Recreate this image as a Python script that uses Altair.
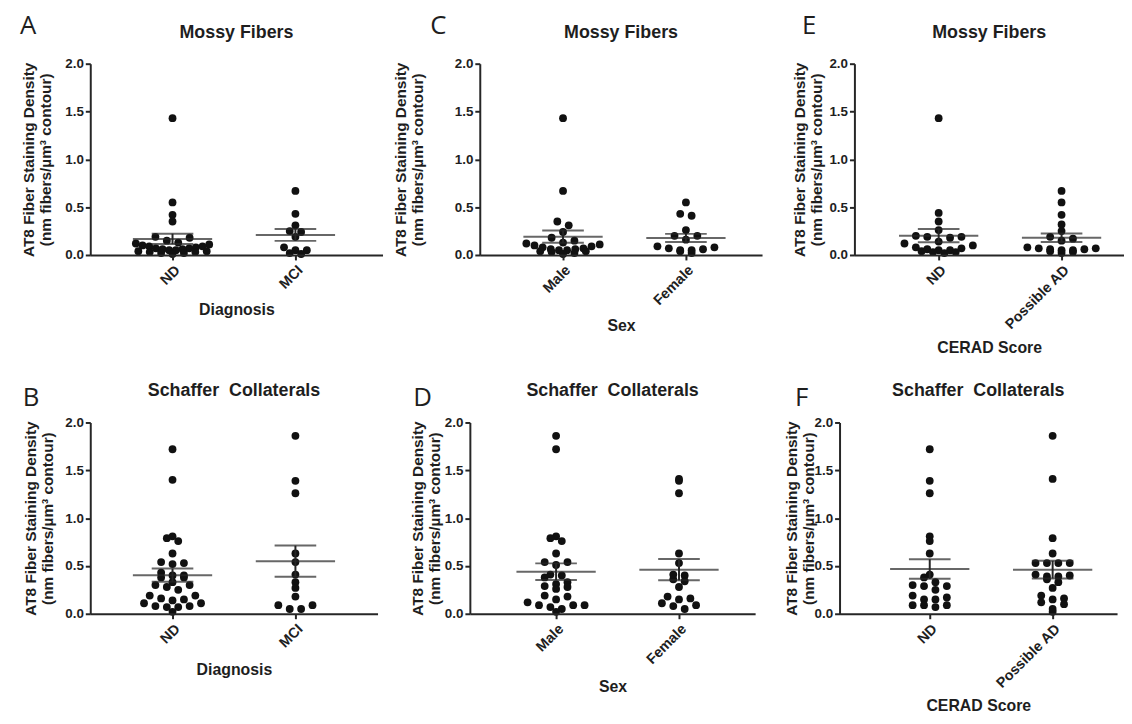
import altair as alt
import pandas as pd

# ---------------- data ----------------
# Mossy fibers, by diagnosis (panel A)
mf_diag_nd = [1.43, 0.55, 0.42, 0.35, 0.19, 0.18, 0.15, 0.13, 0.12, 0.11, 0.10, 0.09, 0.09, 0.08,
              0.07, 0.07, 0.06, 0.06, 0.05, 0.05, 0.04, 0.04, 0.03, 0.03, 0.02, 0.02, 0.01]
mf_diag_mci = [0.67, 0.43, 0.31, 0.25, 0.24, 0.19, 0.08, 0.05, 0.05, 0.02, 0.01]
# Mossy fibers, by sex (panel C)
mf_sex_male = [1.43, 0.67, 0.35, 0.31, 0.24, 0.18, 0.15, 0.13, 0.12, 0.11, 0.10, 0.09, 0.08, 0.07,
               0.06, 0.06, 0.05, 0.05, 0.04, 0.04, 0.03, 0.02, 0.01]
mf_sex_female = [0.55, 0.43, 0.41, 0.26, 0.20, 0.20, 0.16, 0.09, 0.08, 0.07, 0.06, 0.05, 0.05, 0.04, 0.02]
# Mossy fibers, by CERAD score (panel E)
mf_cerad_nd = [1.43, 0.44, 0.35, 0.26, 0.20, 0.19, 0.19, 0.18, 0.14, 0.12, 0.10, 0.08, 0.07, 0.06,
               0.05, 0.05, 0.04, 0.03, 0.03, 0.02]
mf_cerad_pad = [0.67, 0.55, 0.42, 0.32, 0.25, 0.19, 0.17, 0.15, 0.08, 0.07, 0.07, 0.06, 0.06, 0.05,
                0.05, 0.04, 0.03, 0.02]
# Schaffer collaterals, by diagnosis (panel B)
sc_diag_nd = [1.72, 1.40, 0.81, 0.79, 0.76, 0.63, 0.54, 0.53, 0.52, 0.43, 0.40, 0.40, 0.38, 0.38,
              0.33, 0.30, 0.30, 0.28, 0.25, 0.19, 0.19, 0.16, 0.15, 0.14, 0.11, 0.11, 0.08, 0.08,
              0.07, 0.07, 0.02]
sc_diag_mci = [1.86, 1.39, 1.26, 0.63, 0.54, 0.41, 0.33, 0.27, 0.18, 0.09, 0.09, 0.05, 0.05]
# Schaffer collaterals, by sex (panel D)
sc_sex_male = [1.86, 1.72, 0.81, 0.79, 0.76, 0.63, 0.54, 0.54, 0.51, 0.41, 0.40, 0.38, 0.33, 0.31,
               0.29, 0.28, 0.26, 0.19, 0.18, 0.15, 0.12, 0.09, 0.09, 0.09, 0.07, 0.05, 0.02]
sc_sex_female = [1.41, 1.39, 1.26, 0.63, 0.53, 0.41, 0.40, 0.36, 0.34, 0.28, 0.18, 0.16, 0.15,
                 0.11, 0.09, 0.08, 0.05]
# Schaffer collaterals, by CERAD score (panel F)
sc_cerad_nd = [1.72, 1.39, 1.26, 0.81, 0.76, 0.63, 0.41, 0.38, 0.33, 0.30, 0.29, 0.29, 0.25, 0.19,
               0.17, 0.15, 0.15, 0.09, 0.09, 0.09, 0.07]
sc_cerad_pad = [1.86, 1.41, 0.79, 0.63, 0.53, 0.53, 0.53, 0.53, 0.41, 0.40, 0.39, 0.39, 0.36, 0.33,
                0.27, 0.19, 0.16, 0.15, 0.12, 0.10, 0.05, 0.02]

diag_cats = ["ND", "MCI"]
sex_cats = ["Male", "Female"]
cerad_cats = ["ND", "Possible AD"]
y_ticks = [0.0, 0.5, 1.0, 1.5, 2.0]

# ---------------- styling / layout constants ----------------
PLOT_H = 193
Y_MAX = 2.0
CAT_STEP = 124          # px between the two category columns
ROW_BIN = 0.085         # value band grouped into one swarm row
ROW_PHASE = 0.04
DOT_STEP = 11.5         # px between neighbouring dots in a row
MAX_HALF = 37.0         # widest half-spread of a row (px)
INK = "#111111"
AXIS_C = "#262626"
TXT = "#1e1e1e"
FONT = "Liberation Sans"
Y_TITLE = ["AT8 Fiber Staining Density", "(nm fibers/\u00b5m\u00b3 contour)"]
TOP_SPACE = 52          # px above plot included in each panel's bounds
BOTTOM_SPACE = 104      # px below plot included in each panel's bounds

AXIS_STYLE = dict(grid=False, domain=True, domainColor=AXIS_C, domainWidth=2, tickColor=AXIS_C,
                  tickWidth=2, tickSize=5, labelFont=FONT, labelFontWeight="bold", labelColor=TXT,
                  titleFont=FONT, titleFontWeight="bold", titleColor=TXT, zindex=1)


def swarm(vals):
    """Scatter-dot layout: values are grouped into rows and spread symmetrically (px offsets)."""
    rows = {}
    for i, v in enumerate(vals):
        rows.setdefault(int((v + ROW_PHASE) // ROW_BIN), []).append(i)
    xs = [0.0] * len(vals)
    for idx in rows.values():
        idx = sorted(idx, key=lambda i: vals[i])
        n = len(idx)
        step = DOT_STEP
        if n > 1 and (n - 1) * step / 2 > MAX_HALF:
            step = 2 * MAX_HALF / (n - 1)
        offs = [(k - (n - 1) / 2) * step for k in range(n)]
        offs.sort(key=lambda o: (abs(o), -o))
        for i, o in zip(idx, offs):
            xs[i] = o
    return xs


def panel(letter, title, xtitle, cats, groups, width, x0, left_bound, ytitle_x, letter_xy,
          title_y, xtitle_y):
    rows = []
    stats = []
    for g, vals in enumerate(groups):
        offs = swarm(vals)
        for v, o in zip(vals, offs):
            rows.append({"xpos": g + o / CAT_STEP, "v": v})
        n = len(vals)
        m = sum(vals) / n
        sd = (sum((v - m) ** 2 for v in vals) / (n - 1)) ** 0.5
        se = sd / n ** 0.5
        stats.append({"xpos": g, "v": m, "lo": m - se, "hi": m + se})
    df = pd.DataFrame(rows)
    st = pd.DataFrame(stats)
    caps = pd.DataFrame([{"xpos": s["xpos"], "v": s["lo"]} for s in stats] +
                        [{"xpos": s["xpos"], "v": s["hi"]} for s in stats])

    xscale = alt.Scale(domain=[-x0 / CAT_STEP, (width - x0) / CAT_STEP], nice=False, zero=False)
    yscale = alt.Scale(domain=[0, Y_MAX], nice=False, zero=True)
    lab = "datum.value == 0 ? '%s' : (datum.value == 1 ? '%s' : '')" % (cats[0], cats[1])
    xaxis = alt.Axis(values=[0, 1], labelExpr=lab, title=xtitle, labelAngle=-45,
                     labelAlign="right", labelBaseline="top", labelFontSize=14.5, labelPadding=3,
                     titleFontSize=16, titleX=width / 2, titleY=xtitle_y,
                     titleAlign="center", titleBaseline="middle", **AXIS_STYLE)
    yaxis = alt.Axis(values=y_ticks, format=".1f", title=Y_TITLE,
                     labelFontSize=13.5, labelPadding=2, titleFontSize=15.5, titleLineHeight=17,
                     titleX=-ytitle_x, titleY=PLOT_H / 2, titleAlign="center",
                     titleBaseline="top", titleAngle=270, **AXIS_STYLE)

    X = alt.X("xpos:Q", scale=xscale, axis=xaxis)
    Y = alt.Y("v:Q", scale=yscale, axis=yaxis)

    pts = alt.Chart(df).mark_circle(size=62, color=INK, opacity=1).encode(x=X, y=Y)
    mean = alt.Chart(st).mark_tick(orient="horizontal", size=80, thickness=2, color=AXIS_C).encode(x=X, y=Y)
    cap = alt.Chart(caps).mark_tick(orient="horizontal", size=42, thickness=2, color=AXIS_C).encode(x=X, y=Y)
    bar = alt.Chart(st).mark_rule(strokeWidth=2, color=AXIS_C).encode(
        x=X, y=alt.Y("lo:Q", scale=yscale, axis=yaxis), y2="hi:Q")

    lab_df = pd.DataFrame({"t": [letter]})
    let = alt.Chart(lab_df).mark_text(
        align="left", baseline="top", fontSize=26, font="Open Sans", color=TXT
    ).encode(x=alt.value(letter_xy[0]), y=alt.value(letter_xy[1]), text="t:N")
    ttl = alt.Chart(pd.DataFrame({"t": [title]})).mark_text(
        align="center", baseline="middle", fontSize=18, fontWeight="bold", font=FONT, color=TXT
    ).encode(x=alt.value(width / 2), y=alt.value(title_y), text="t:N")
    # invisible (white) frame rule fixing how much room the panel takes on its left/top/bottom
    spacer = alt.Chart(lab_df).mark_rule(color="white", strokeWidth=1).encode(
        x=alt.value(-left_bound), x2=alt.value(-left_bound),
        y=alt.value(-TOP_SPACE), y2=alt.value(PLOT_H + BOTTOM_SPACE))

    return alt.layer(spacer, pts, bar, mean, cap, let, ttl).properties(
        width=width, height=PLOT_H,
        view=alt.ViewBackground(stroke="white", strokeWidth=0, strokeOpacity=0),
    )


#            letter title  x title  cats  groups  W  x0  left  ytx  letter(x, top)  title_y  xtitle_y
A = panel("A", "Mossy Fibers", "Diagnosis", diag_cats, [mf_diag_nd, mf_diag_mci], 295, 83, 75, 69, (-71, -51), -31, 55)
C = panel("C", "Mossy Fibers", "Sex", sex_cats, [mf_sex_male, mf_sex_female], 285, 84, 97, 87, (-50, -51), -31, 71)
E = panel("E", "Mossy Fibers", "CERAD Score", cerad_cats, [mf_cerad_nd, mf_cerad_pad], 272, 85, 92, 62, (-53, -51), -31, 93)
B = panel("B", "Schaffer \u00a0Collaterals", "Diagnosis", diag_cats, [sc_diag_nd, sc_diag_mci], 290, 83, 82, 67, (-68, -38), -32, 56)
D = panel("D", "Schaffer \u00a0Collaterals", "Sex", sex_cats, [sc_sex_male, sc_sex_female], 288, 87, 92, 60, (-57, -38), -32, 73)
F = panel("F", "Schaffer \u00a0Collaterals", "CERAD Score", cerad_cats, [sc_cerad_nd, sc_cerad_pad], 280, 91, 84, 55, (-45, -38), -32, 93)

row1 = alt.hconcat(A, C, E, spacing=0)
row2 = alt.hconcat(B, D, F, spacing=0)

chart = alt.vconcat(row1, row2, spacing=11).properties(
    padding={"left": 0, "top": 0, "right": 0, "bottom": 0}, background="white"
).configure_view(stroke="white", strokeWidth=0, strokeOpacity=0).configure_axis(**AXIS_STYLE)

chart.save("out.html", embed_options={"renderer": "svg", "actions": False})
